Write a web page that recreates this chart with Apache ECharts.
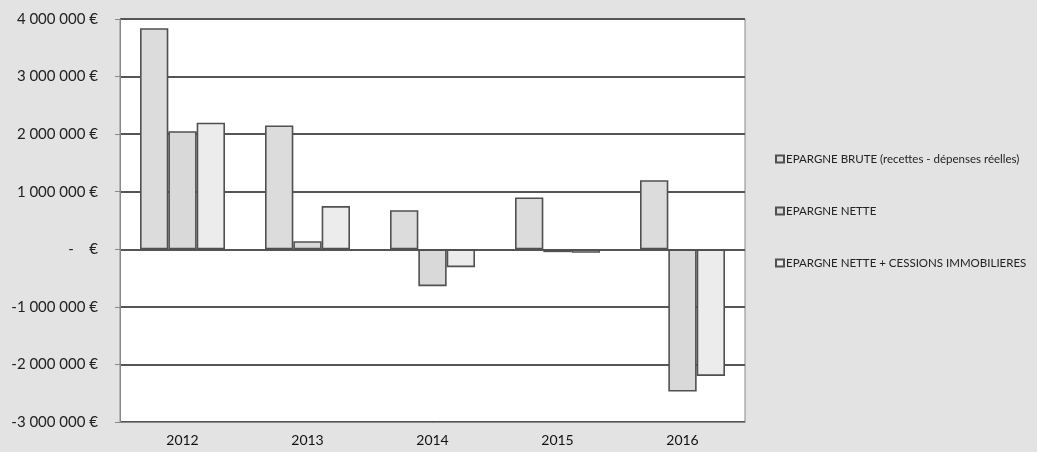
<!DOCTYPE html>
<html><head><meta charset="utf-8">
<script src="https://cdn.jsdelivr.net/npm/echarts@6/dist/echarts.min.js"></script>
<style>html,body{margin:0;padding:0;background:#e3e3e3}#c{width:1037px;height:452px}</style>
</head><body><div id="c"></div>
<script>
const categories = ['2012', '2013', '2014', '2015', '2016'];
const seriesNames = [
  'EPARGNE BRUTE (recettes - dépenses réelles)',
  'EPARGNE NETTE',
  'EPARGNE NETTE + CESSIONS IMMOBILIERES'
];
const epargneBrute = [3840000, 2150000, 680000, 900000, 1200000];
const epargneNette = [2050000, 140000, -640000, -50000, -2470000];
const epargneNetteCessions = [2200000, 750000, -310000, -60000, -2200000];
const yTicks = [-3000000, -2000000, -1000000, 0, 1000000, 2000000, 3000000, 4000000];

function fmt(v) {
  if (v === 0) return '-    €';
  const s = Math.abs(v).toString().replace(/\B(?=(\d{3})+(?!\d))/g, ' ');
  return (v < 0 ? '-' : '') + s + ' €';
}

const fills = ['#dcdcdc', '#d9d9d9', '#ececec'];
const data = [epargneBrute, epargneNette, epargneNetteCessions];

const chart = echarts.init(document.getElementById('c'));
chart.setOption({
  backgroundColor: '#e3e3e3',
  animation: false,
  textStyle: { fontFamily: 'Lato, "Open Sans", sans-serif' },
  grid: { left: 120, right: 292, top: 19, bottom: 30, show: true, backgroundColor: '#ffffff', borderColor: '#888', borderWidth: 1 },
  legend: {
    orient: 'vertical', left: 770, top: 148, itemGap: 40,
    icon: 'rect', itemWidth: 8, itemHeight: 7,
    textStyle: { fontSize: 11.5, color: '#222', fontFamily: 'Lato, sans-serif', padding: [0, 0, 0, -3] },
    data: seriesNames
  },
  xAxis: {
    type: 'category', data: categories,
    axisLine: { onZero: false, lineStyle: { color: '#888', width: 1 } },
    axisTick: { show: false },
    axisLabel: { fontSize: 14, color: '#111', margin: 11 }
  },
  yAxis: {
    type: 'value', min: yTicks[0], max: yTicks[yTicks.length - 1], interval: 1000000,
    axisLine: { show: true, lineStyle: { color: '#888', width: 1 } },
    axisTick: { show: true, length: 5, lineStyle: { color: '#888' } },
    axisLabel: { fontSize: 15, color: '#222', margin: 22, formatter: fmt },
    splitLine: { lineStyle: { color: '#555', width: 2 } }
  },
  series: seriesNames.map((n, i) => ({
    name: n, type: 'bar', data: data[i],
    barGap: '0%', barCategoryGap: '32%',
    itemStyle: { color: fills[i], borderColor: '#505050', borderWidth: 1.6 }
  }))
});
</script></body></html>
